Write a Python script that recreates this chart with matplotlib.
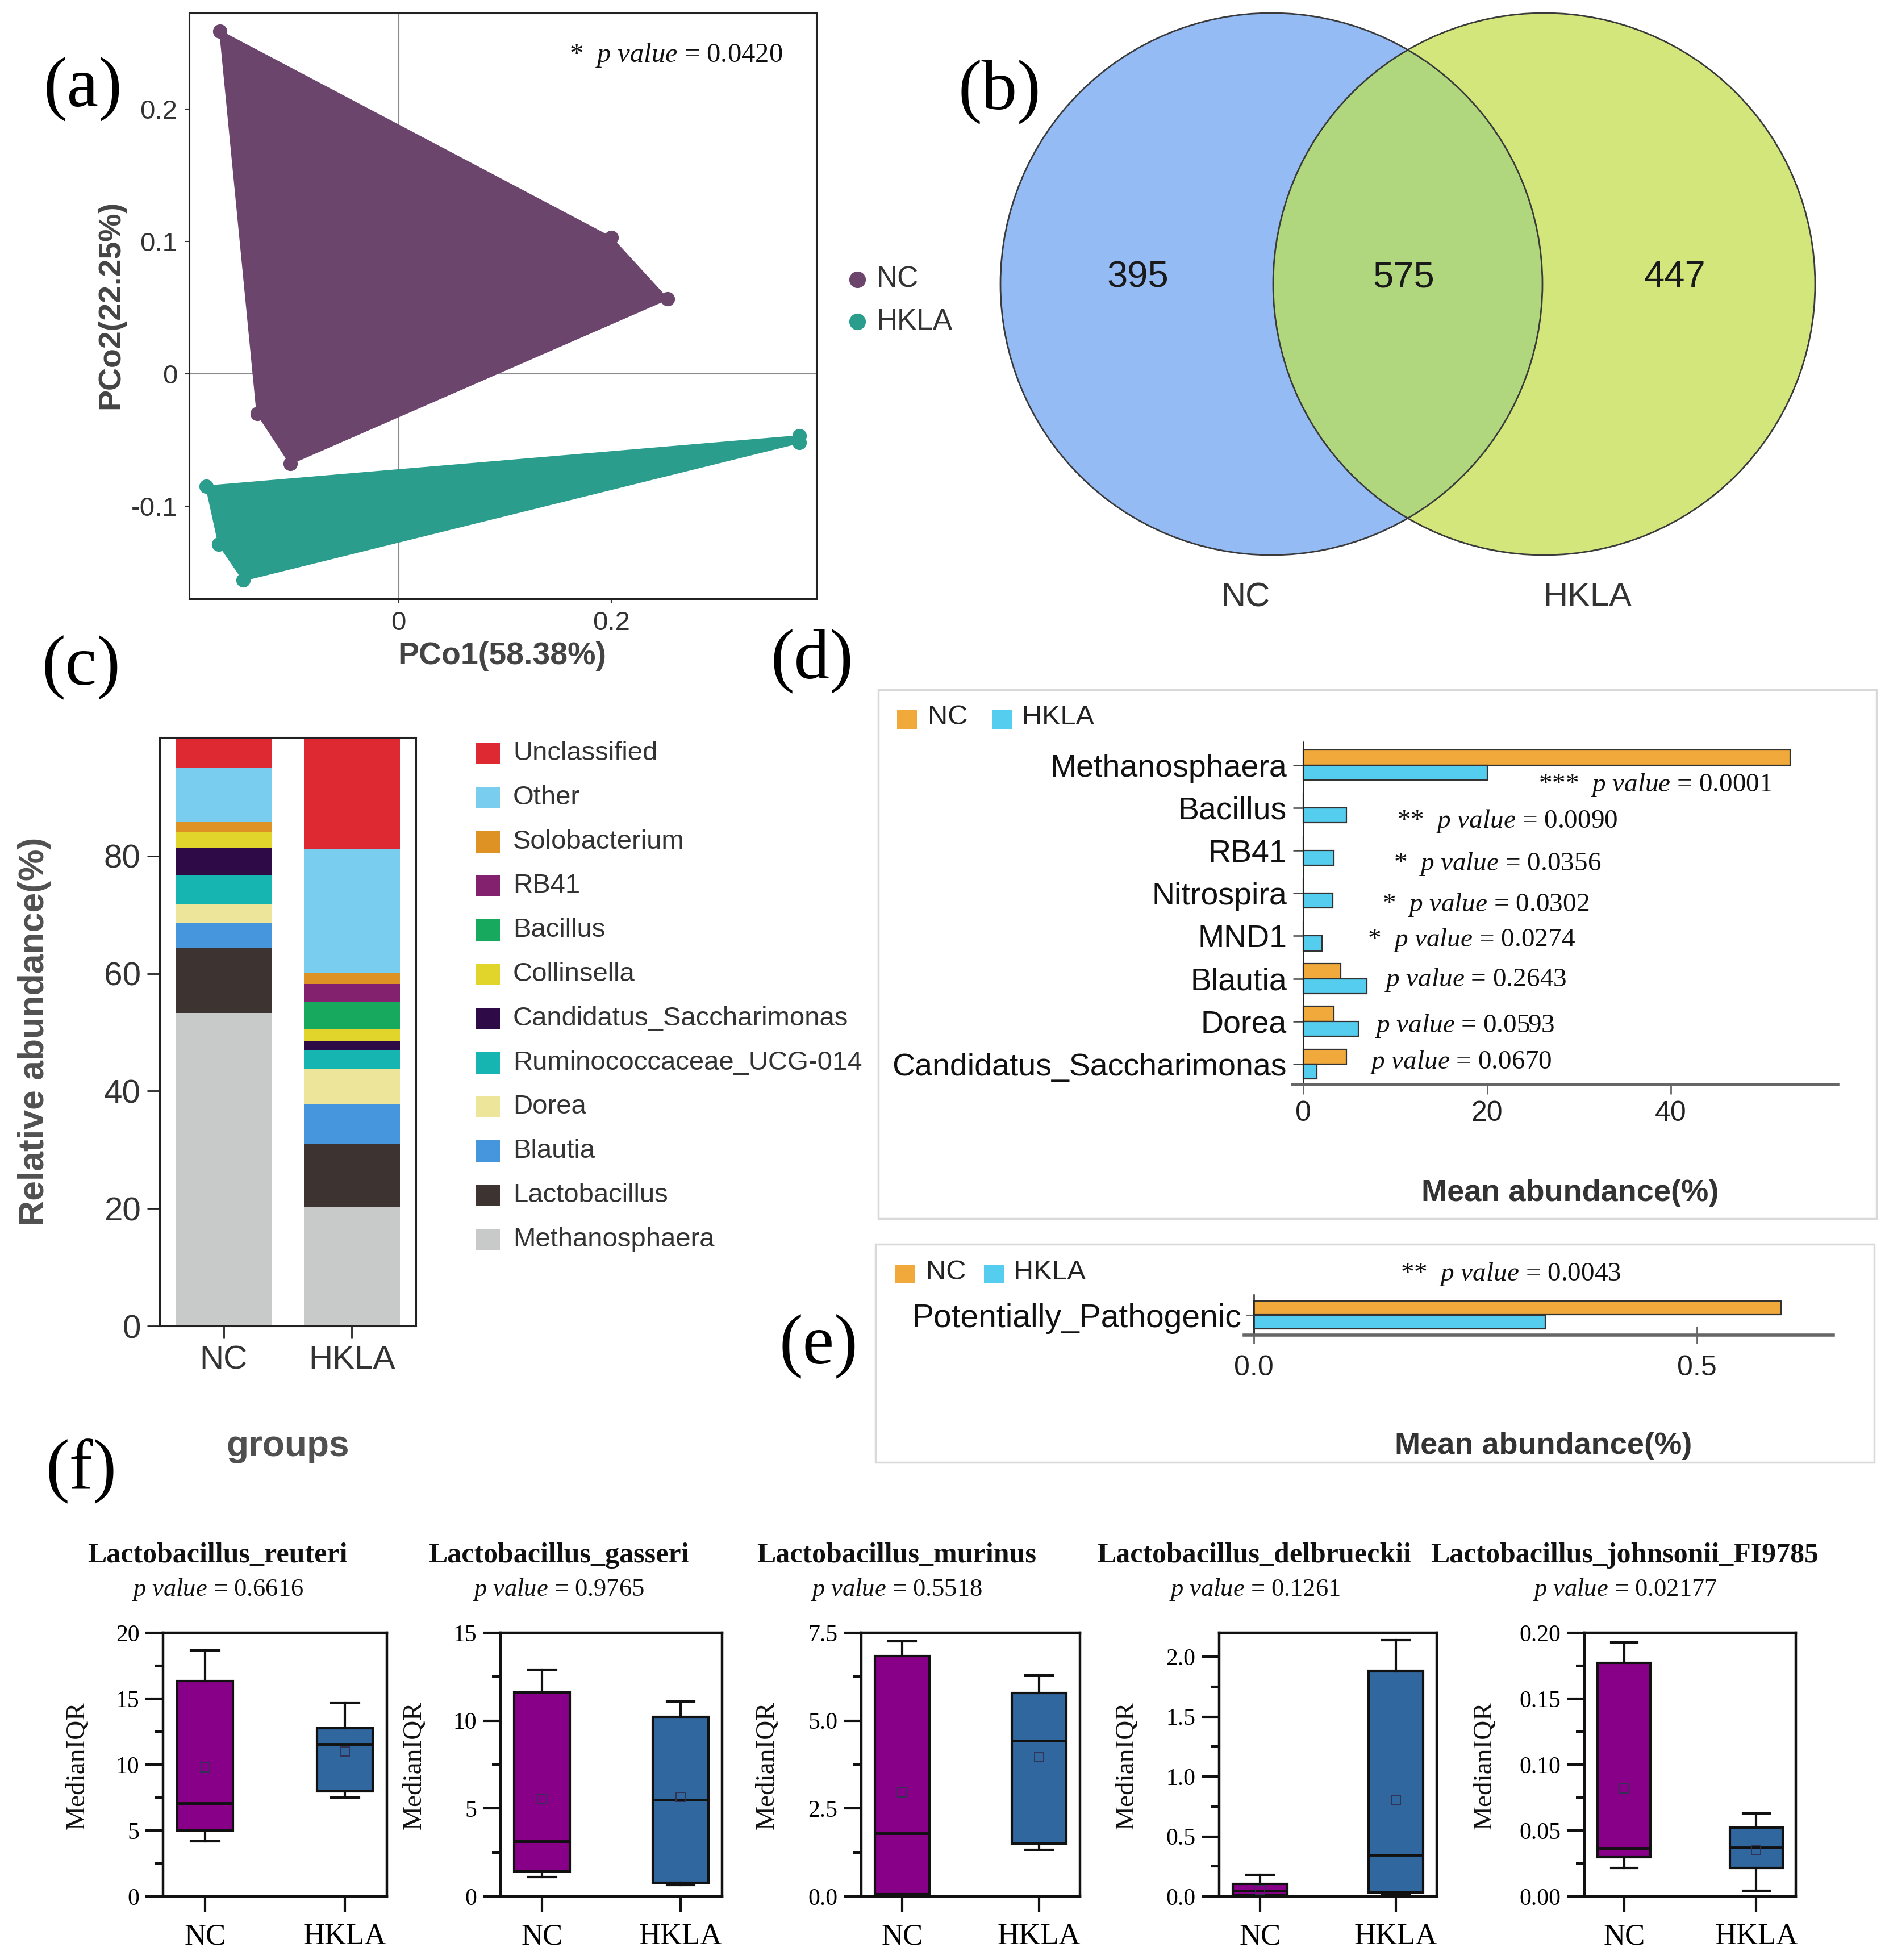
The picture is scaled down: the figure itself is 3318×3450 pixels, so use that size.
import numpy as np
import matplotlib
matplotlib.use('Agg')
import matplotlib.pyplot as plt
from matplotlib.patches import Circle, Rectangle
from matplotlib.lines import Line2D

# ---------------- data ----------------
# (a) PCoA
pcoa_groups = ['NC', 'HKLA']
nc_pc1 = [-0.168, 0.200, 0.253, -0.102, -0.133]
nc_pc2 = [0.259, 0.103, 0.0565, -0.068, -0.030]
hkla_pc1 = [-0.181, 0.377, 0.377, -0.146, -0.169]
hkla_pc2 = [-0.085, -0.047, -0.052, -0.156, -0.129]
pcoa_xticks = [0, 0.2]
pcoa_xticklabels = ['0', '0.2']
pcoa_yticks = [-0.1, 0, 0.1, 0.2]
pcoa_yticklabels = ['-0.1', '0', '0.1', '0.2']
pcoa_p = '0.0420'

# (b) Venn
venn_sets = ['NC', 'HKLA']
venn_counts = [395, 575, 447]   # NC only, shared, HKLA only

# (c) stacked composition
bar_groups = ['NC', 'HKLA']
genera = ['Methanosphaera', 'Lactobacillus', 'Blautia', 'Dorea',
          'Ruminococcaceae_UCG-014', 'Candidatus_Saccharimonas', 'Collinsella',
          'Bacillus', 'RB41', 'Solobacterium', 'Other', 'Unclassified']
nc_rel = [53.3, 11.0, 4.25, 3.25, 4.9, 4.6, 2.8, 0.0, 0.0, 1.65, 9.3, 4.95]
hkla_rel = [20.2, 10.8, 6.8, 5.9, 3.2, 1.55, 2.0, 4.65, 3.15, 1.8, 21.05, 18.9]
genus_colors = ['#C8C9C9', '#3D3330', '#4696DD', '#EDE59A', '#16B5B2', '#2E0A47',
                '#E1D42A', '#17AA5E', '#84216F', '#DD9223', '#79CDEE', '#DE2832']
c_yticks = [0, 20, 40, 60, 80]

# (d) differential genera
d_taxa = ['Methanosphaera', 'Bacillus', 'RB41', 'Nitrospira', 'MND1',
          'Blautia', 'Dorea', 'Candidatus_Saccharimonas']
d_nc = [53.0, 0.0, 0.0, 0.0, 0.0, 4.1, 3.3, 4.7]
d_hkla = [20.0, 4.7, 3.3, 3.2, 2.05, 6.9, 6.0, 1.5]
d_stars = ['***', '**', '*', '*', '*', '', '', '']
d_pvals = ['0.0001', '0.0090', '0.0356', '0.0302', '0.0274', '0.2643', '0.0593', '0.0670']
d_text_x = [25.6, 10.2, 9.8, 8.6, 7.0, 8.85, 7.8, 7.2]
d_text_dy = [0.46, 0.31, 0.31, 0.27, 0.09, 0.02, 0.11, -0.05]
d_xticks = [0, 20, 40]

# (e) potentially pathogenic
e_taxa = ['Potentially_Pathogenic']
e_nc = [0.595]
e_hkla = [0.329]
e_star = '**'
e_pval = '0.0043'
e_xticks = [0.0, 0.5]
e_xticklabels = ['0.0', '0.5']

# (f) Lactobacillus species boxplots
species = ['Lactobacillus_reuteri', 'Lactobacillus_gasseri', 'Lactobacillus_murinus',
           'Lactobacillus_delbrueckii', 'Lactobacillus_johnsonii_FI9785']
species_p = ['0.6616', '0.9765', '0.5518', '0.1261', '0.02177']
nc_whislo = [4.19, 1.10, 0.03, 0.0, 0.0216]
nc_q1 = [5.00, 1.43, 0.06, 0.008, 0.0298]
nc_med = [7.09, 3.12, 1.79, 0.047, 0.0365]
nc_q3 = [16.33, 11.6, 6.84, 0.102, 0.177]
nc_whishi = [18.67, 12.9, 7.26, 0.178, 0.1926]
nc_mean = [9.77, 5.55, 2.96, 0.05, 0.082]
hk_whislo = [7.49, 0.66, 1.33, 0.02, 0.0042]
hk_q1 = [7.98, 0.78, 1.50, 0.031, 0.0216]
hk_med = [11.56, 5.49, 4.43, 0.346, 0.0372]
hk_q3 = [12.74, 10.2, 5.78, 1.88, 0.0523]
hk_whishi = [14.7, 11.1, 6.29, 2.14, 0.0628]
hk_mean = [11.0, 5.67, 3.97, 0.80, 0.0353]
f_ymax = [20, 15, 7.5, 2.2, 0.20]
f_yticks = [[0, 5, 10, 15, 20], [0, 5, 10, 15], [0, 2.5, 5.0, 7.5],
            [0, 0.5, 1.0, 1.5, 2.0], [0, 0.05, 0.10, 0.15, 0.20]]
f_yticklabels = [['0', '5', '10', '15', '20'], ['0', '5', '10', '15'],
                 ['0.0', '2.5', '5.0', '7.5'], ['0.0', '0.5', '1.0', '1.5', '2.0'],
                 ['0.00', '0.05', '0.10', '0.15', '0.20']]
f_yminor = [[2.5, 7.5, 12.5, 17.5], [2.5, 7.5, 12.5], [1.25, 3.75, 6.25],
            [0.25, 0.75, 1.25, 1.75], [0.025, 0.075, 0.125, 0.175]]

# ---------------- style ----------------
SANS = ['Liberation Sans', 'DejaVu Sans']
SERIF = ['Liberation Serif', 'DejaVu Serif']
plt.rcParams['font.family'] = SANS
plt.rcParams['mathtext.fontset'] = 'custom'
plt.rcParams['mathtext.it'] = 'Liberation Serif:italic'
plt.rcParams['mathtext.rm'] = 'Liberation Serif'

W, H = 3318, 3450
fig = plt.figure(figsize=(W / 100, H / 100), dpi=100)


def add_ax(x0, y0, x1, y1):
    return fig.add_axes([x0 / W, 1 - y1 / H, (x1 - x0) / W, (y1 - y0) / H])


def ftext(x, y, s, **kw):
    return fig.text(x / W, 1 - y / H, s, **kw)


def frect(x, y, w, h, **kw):
    r = Rectangle((x / W, 1 - (y + h) / H), w / W, h / H, transform=fig.transFigure, **kw)
    fig.add_artist(r)
    return r


def pstr(v, stars=''):
    s = r'$\mathit{p\ value}$ = ' + v
    return (stars + '  ' + s) if stars else s


C_NC_A, C_HK_A = '#6B456B', '#2A9D8C'
C_NC_D, C_HK_D = '#F2A93B', '#55CDEF'
C_NC_F, C_HK_F = '#880088', '#31679F'

# panel letters
for lab, (x, y) in zip(['(a)', '(b)', '(c)', '(d)', '(e)', '(f)'],
                       [(146, 157), (1759, 161), (143, 1175), (1429, 1163), (1441, 2370), (143, 2590)]):
    ftext(x, y, lab, family=SERIF, fontsize=90, ha='center', va='center')

# ---------------- (a) PCoA ----------------
ax = add_ax(333, 23, 1437, 1054)
ax.axhline(0, color='#8c8c8c', lw=1.5, zorder=1)
ax.axvline(0, color='#8c8c8c', lw=1.5, zorder=1)
for xs, ys, c in [(nc_pc1, nc_pc2, C_NC_A), (hkla_pc1, hkla_pc2, C_HK_A)]:
    ax.fill(xs, ys, color=c, lw=2, ec=c, zorder=2)
    ax.scatter(xs, ys, s=330, color=c, lw=0, zorder=3)
ax.set_xlim(-0.197, 0.393)
ax.set_ylim(-0.170, 0.2726)
ax.set_xticks(pcoa_xticks)
ax.set_xticklabels(pcoa_xticklabels)
ax.set_yticks(pcoa_yticks)
ax.set_yticklabels(pcoa_yticklabels)
ax.tick_params(length=6, width=1.5, color='#333333', labelsize=34, labelcolor='#333333', pad=9)
for s in ax.spines.values():
    s.set_linewidth(2.2)
    s.set_color('#222222')
ax.text(0.776, 0.928, '*  ' + r'$\mathit{p\ value}$ = ' + pcoa_p, transform=ax.transAxes,
        family=SERIF, fontsize=35, ha='center', va='center', color='#111111')
ftext(884, 1155, 'PCo1(58.38%)', fontsize=40, fontweight='bold', color='#444444', ha='center', va='center')
ftext(195, 536, 'PCo2(22.25%)', fontsize=40, fontweight='bold', color='#444444', ha='center',
      va='center', rotation=90)
for i, (g, c) in enumerate(zip(pcoa_groups, [C_NC_A, C_HK_A])):
    yy = 492 + i * 74
    fig.add_artist(Line2D([1509 / W], [1 - yy / H], marker='o', ms=20, color=c, ls='none',
                          transform=fig.transFigure))
    ftext(1543, yy, g, fontsize=37, color='#333333', ha='left', va='center')

# ---------------- (b) Venn ----------------
axb = add_ax(1700, 0, 3318, 1150)
axb.set_xlim(1700, 3318)
axb.set_ylim(1150, 0)
axb.axis('off')
cL = Circle((2238, 500), 477, fc='#94BBF3', ec='none', zorder=1)
cR = Circle((2718, 500), 477, fc='#D3E67B', ec='none', zorder=1)
axb.add_patch(cL)
axb.add_patch(cR)
ov = Circle((2238, 500), 477, fc='#B0D67E', ec='none', zorder=2)
axb.add_patch(ov)
ov.set_clip_path(cR)
for cx in (2238, 2718):
    axb.add_patch(Circle((cx, 500), 477, fc='none', ec='#3a3a3a', lw=2, zorder=3))
for x, n in zip([2003, 2471, 2948], venn_counts):
    axb.text(x, 488, str(n), fontsize=47, ha='center', va='center', color='#1a1a1a', zorder=4)
for x, lab in zip([2192, 2794], venn_sets):
    axb.text(x, 1052, lab, fontsize=43, ha='center', va='center', color='#333333')

# ---------------- (c) stacked bars ----------------
axc = add_ax(281, 1298, 732, 2334)
xc = np.arange(len(bar_groups))
vals = np.array([nc_rel, hkla_rel])
bottom = np.zeros(len(bar_groups))
for j, (gname, col) in enumerate(zip(genera, genus_colors)):
    axc.bar(xc, vals[:, j], bottom=bottom, width=0.75, color=col, lw=0)
    bottom += vals[:, j]
axc.set_xlim(-0.5, 1.5)
axc.set_ylim(0, 100.2)
axc.set_yticks(c_yticks)
axc.set_xticks(xc)
axc.set_xticklabels(bar_groups)
axc.tick_params(length=16, width=2, color='#222222', labelsize=42, labelcolor='#333333', pad=8)
for s in axc.spines.values():
    s.set_linewidth(2.2)
    s.set_color('#222222')
ftext(61, 1816, 'Relative abundance(%)', fontsize=45, fontweight='bold', color='#505050',
      ha='center', va='center', rotation=90)
ftext(507, 2546, 'groups', fontsize=46, fontweight='bold', color='#505050', ha='center', va='center')
for i, j in enumerate(range(len(genera) - 1, -1, -1)):
    yy = 1326 + i * 77.8
    frect(837, yy - 19, 43, 38, fc=genus_colors[j], ec='none')
    ftext(903, yy, genera[j], fontsize=34, color='#333333', ha='left', va='center')

# ---------------- (d) differential genera ----------------
frect(1546, 1214, 1757, 931, fc='none', ec='#d9d9d9', lw=2.5)
axd = add_ax(2274.5, 1306, 3235, 1909)
yd = np.arange(len(d_taxa))
axd.barh(yd - 0.175, d_nc, height=0.35, color=C_NC_D, ec='#333333', lw=1.6)
axd.barh(yd + 0.175, d_hkla, height=0.35, color=C_HK_D, ec='#333333', lw=1.6)
axd.set_xlim(-1.22, 58.2)
axd.set_ylim(7.48, -0.54)
axd.set_yticks(yd)
axd.set_yticklabels(d_taxa)
axd.set_xticks(d_xticks)
axd.spines['left'].set_position(('data', 0))
axd.spines['top'].set_visible(False)
axd.spines['right'].set_visible(False)
axd.spines['left'].set_linewidth(1.8)
axd.spines['left'].set_color('#222222')
axd.spines['bottom'].set_linewidth(4)
axd.spines['bottom'].set_color('#666666')
axd.tick_params(axis='y', length=13, width=1.8, color='#444444', labelsize=40, pad=8, labelcolor='#111111')
axd.tick_params(axis='x', length=12, width=2, color='#666666', labelsize=36, pad=8, labelcolor='#222222')
for i in range(len(d_taxa)):
    axd.text(d_text_x[i], i + d_text_dy[i], pstr(d_pvals[i], d_stars[i]), family=SERIF,
             fontsize=34, ha='left', va='center', color='#111111')
ftext(2764, 2100, 'Mean abundance(%)', fontsize=39, fontweight='bold', color='#333333', ha='center', va='center')
for x0, xt, lab, c in [(1579, 1633, 'NC', C_NC_D), (1746, 1799, 'HKLA', C_HK_D)]:
    frect(x0, 1250, 35, 34, fc=c, ec='none')
    ftext(xt, 1263, lab, fontsize=35, color='#222222', ha='left', va='center')

# ---------------- (e) potentially pathogenic ----------------
frect(1541, 2190, 1758, 384, fc='none', ec='#d9d9d9', lw=2.5)
axe = add_ax(2190, 2279, 3227, 2350)
ye = np.arange(len(e_taxa))
axe.barh(ye - 0.17, e_nc, height=0.34, color=C_NC_D, ec='#333333', lw=1.6)
axe.barh(ye + 0.17, e_hkla, height=0.34, color=C_HK_D, ec='#333333', lw=1.6)
axe.set_xlim(-0.0109, 0.654)
axe.set_ylim(0.5, -0.5)
axe.set_yticks(ye)
axe.set_yticklabels(e_taxa)
axe.set_xticks(e_xticks)
axe.set_xticklabels(e_xticklabels)
axe.spines['left'].set_position(('data', 0))
axe.spines['top'].set_visible(False)
axe.spines['right'].set_visible(False)
axe.spines['left'].set_linewidth(1.8)
axe.spines['left'].set_color('#222222')
axe.spines['bottom'].set_linewidth(4)
axe.spines['bottom'].set_color('#666666')
axe.tick_params(axis='y', length=10, width=1.8, color='#666666', labelsize=41, pad=6, labelcolor='#111111')
axe.tick_params(axis='x', direction='inout', length=22, width=2, color='#666666', labelsize=36, pad=14,
                labelcolor='#222222')
ftext(2465, 2242, pstr(e_pval, e_star), family=SERIF, fontsize=34, ha='left', va='center', color='#111111')
ftext(2717, 2545, 'Mean abundance(%)', fontsize=39, fontweight='bold', color='#333333', ha='center', va='center')
for x0, xt, lab, c in [(1575, 1630, 'NC', C_NC_D), (1732, 1784, 'HKLA', C_HK_D)]:
    frect(x0, 2226, 36, 32, fc=c, ec='none')
    ftext(xt, 2239, lab, fontsize=35, color='#222222', ha='left', va='center')

# ---------------- (f) boxplots ----------------
f_boxes = [(287, 681), (881, 1271), (1516, 1901), (2146, 2529), (2789, 3161)]
f_title_x = [383, 983, 1578, 2208, 2860]
f_ylabel_x = [136, 729, 1350, 1983, 2613]
for k in range(len(species)):
    x0, x1 = f_boxes[k]
    axf = add_ax(x0, 2874, x1, 3338)
    stats = [
        dict(whislo=nc_whislo[k], q1=nc_q1[k], med=nc_med[k], q3=nc_q3[k], whishi=nc_whishi[k],
             mean=nc_mean[k], fliers=[], label='NC'),
        dict(whislo=hk_whislo[k], q1=hk_q1[k], med=hk_med[k], q3=hk_q3[k], whishi=hk_whishi[k],
             mean=hk_mean[k], fliers=[], label='HKLA'),
    ]
    bp = axf.bxp(stats, positions=[0, 1], widths=0.4, patch_artist=True, showmeans=True,
                 showfliers=False, capwidths=0.2,
                 boxprops=dict(lw=3, edgecolor='#111111'),
                 medianprops=dict(color='#111111', lw=3.5),
                 whiskerprops=dict(color='#111111', lw=3),
                 capprops=dict(color='#111111', lw=3),
                 meanprops=dict(marker='s', markerfacecolor='none', markeredgecolor='#333355',
                                markersize=12, markeredgewidth=1.4))
    for patch, c in zip(bp['boxes'], [C_NC_F, C_HK_F]):
        patch.set_facecolor(c)
    axf.set_xlim(-0.3, 1.3)
    axf.set_ylim(0, f_ymax[k])
    axf.set_yticks(f_yticks[k])
    axf.set_yticklabels(f_yticklabels[k], family=SERIF)
    axf.set_yticks(f_yminor[k], minor=True)
    axf.set_xticks([0, 1])
    axf.set_xticklabels(['NC', 'HKLA'], family=SERIF)
    axf.tick_params(axis='y', which='major', length=22, width=3, labelsize=30, pad=8, color='#111111')
    axf.tick_params(axis='y', which='minor', length=11, width=3, color='#111111')
    axf.tick_params(axis='x', length=20, width=3, labelsize=38, pad=14, color='#111111')
    for s in axf.spines.values():
        s.set_linewidth(3.2)
        s.set_color('#111111')
    ftext(f_title_x[k], 2738, species[k], family=SERIF, fontweight='bold', fontsize=36,
          ha='center', va='center', color='#111111')
    ftext(f_title_x[k], 2798, pstr(species_p[k]), family=SERIF, fontsize=32,
          ha='center', va='center', color='#111111')
    ftext(f_ylabel_x[k], 3107, 'MedianIQR', family=SERIF, fontsize=34, rotation=90,
          ha='center', va='center', color='#111111')

fig.savefig('out.png', dpi=100)
